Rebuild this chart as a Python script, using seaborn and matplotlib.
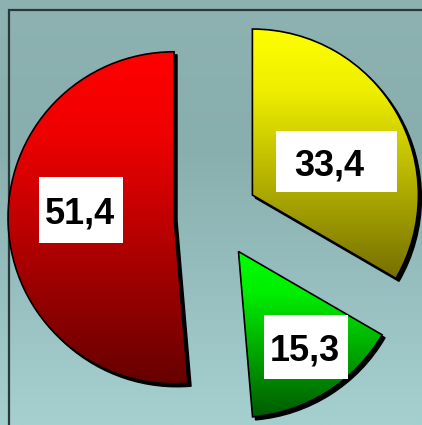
import numpy as np
import matplotlib
matplotlib.use("Agg")
import matplotlib.pyplot as plt
import seaborn as sns
from matplotlib.patches import Wedge, Rectangle
from matplotlib.colors import LinearSegmentedColormap

# data (clockwise from 12 o'clock)
shares = [33.4, 15.3, 51.4]
labels = ["33,4", "15,3", "51,4"]
top_colors = ["#ffff00", "#00ff00", "#ff0000"]
mid_colors = ["#eeee00", "#00ee00", "#ee0000"]
bottom_colors = ["#767000", "#005a00", "#660000"]

W, H = 422, 425
# label boxes in pixel coords (x, y_top, w, h) and text anchor (x, baseline)
boxes = [(276, 131, 121, 61), (264, 315, 84, 64), (39, 177, 84, 66)]
anchors = [(329, 175), (305, 360), (80, 223)]

sns.set_style("white")
plt.rcParams['font.family'] = ['Liberation Sans', 'DejaVu Sans']

fig = plt.figure(figsize=(W / 100, H / 100), dpi=100)
ax = fig.add_axes([0, 0, 1, 1])

# background gradient
bg = LinearSegmentedColormap.from_list(
    "bg", [(0, "#8eb2b2"), (0.35, "#89aeae"), (1, "#a6d0d0")])
ax.imshow(np.linspace(0, 1, 256).reshape(-1, 1), cmap=bg,
          extent=(0, W, 0, H), aspect="auto", zorder=0)

# plot area frame
ax.add_patch(Rectangle((8.5, -20), W + 20, H - 9.5 + 20, fill=False,
                       ec="#2b3838", lw=1.6, zorder=1))

wedges, _ = ax.pie(shares, startangle=90, counterclock=False, radius=166,
                   center=(216, H - 216), explode=[42] * 3,
                   wedgeprops=dict(fc="none", ec="black", lw=1.2, zorder=4))

for w, c0, cm, c1 in zip(wedges, top_colors, mid_colors, bottom_colors):
    cx, cy = w.center
    sh = Wedge((cx + 3, cy - 3), w.r, w.theta1, w.theta2, fc="black",
               ec="black", lw=1, zorder=2)
    ax.add_patch(sh)
    ext = w.get_path().get_extents()
    cmap = LinearSegmentedColormap.from_list("g", [(0, c0), (0.25, cm), (1, c1)])
    im = ax.imshow(np.linspace(0, 1, 256).reshape(-1, 1), cmap=cmap,
                   extent=(ext.x0, ext.x1, ext.y0, ext.y1), aspect="auto",
                   zorder=3)
    im.set_clip_path(w)

for (bx, by, bw, bh), (tx, ty), lab in zip(boxes, anchors, labels):
    ax.add_patch(Rectangle((bx, H - by - bh), bw, bh, fc="white", ec="none",
                           zorder=5))
    ax.text(tx, H - ty, lab, ha="center", va="baseline", fontsize=26,
            fontweight="bold", color="black", zorder=6)

ax.set_xlim(0, W)
ax.set_ylim(0, H)
ax.set_aspect("auto")
ax.axis("off")

fig.savefig("out.png", dpi=100)
